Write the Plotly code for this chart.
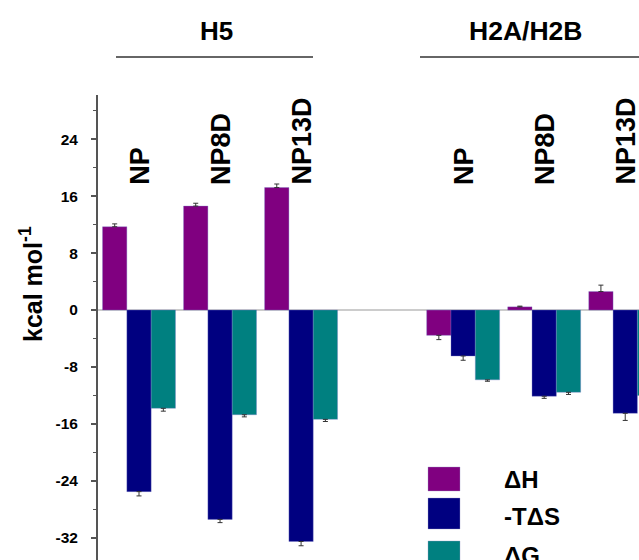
import plotly.graph_objects as go

# ---------------- data ----------------
groups = ["H5", "H2A/H2B"]
samples = ["NP", "NP8D", "NP13D"]
categories = ["H5 NP", "H5 NP8D", "H5 NP13D", "gap", "H2A NP", "H2A NP8D", "H2A NP13D"]
bar_categories = ["H5 NP", "H5 NP8D", "H5 NP13D", "H2A NP", "H2A NP8D", "H2A NP13D"]
label_texts = ["NP", "NP8D", "NP13D", "NP", "NP8D", "NP13D"]

dH = [11.7, 14.6, 17.2, -3.55, 0.45, 2.6]
dH_err = [0.4, 0.4, 0.5, 0.6, 0.1, 0.9]
mTdS = [-25.5, -29.4, -32.5, -6.45, -12.1, -14.5]
mTdS_err = [0.6, 0.45, 0.6, 0.6, 0.3, 1.0]
dG = [-13.8, -14.7, -15.35, -9.8, -11.55, -12.0]
dG_err = [0.4, 0.3, 0.3, 0.2, 0.3, 0.3]

series_names = ["\u0394H", "-T\u0394S", "\u0394G"]
series_values = [dH, mTdS, dG]
series_errors = [dH_err, mTdS_err, dG_err]
series_colors = ["#800080", "#000080", "#008080"]

y_ticks = [24, 16, 8, 0, -8, -16, -24, -32]

FONT = "Arial, Liberation Sans, Helvetica, sans-serif"

fig = go.Figure()
for name, vals, errs, col in zip(series_names, series_values, series_errors, series_colors):
    up = [e if v >= 0 else 0 for v, e in zip(vals, errs)]
    down = [e if v < 0 else 0 for v, e in zip(vals, errs)]
    fig.add_trace(go.Bar(
        x=bar_categories, y=vals, name=name,
        marker=dict(color=col, line=dict(width=0.6, color="rgba(120,120,200,0.6)")),
        error_y=dict(type="data", symmetric=False, array=up, arrayminus=down,
                     color="#333333", thickness=1, width=2.5),
        showlegend=False,
    ))

W, H = 639, 560
ML, MT = 98, 95
PW, PH = W - ML, H - MT

def px2paper_x(px):
    return (px - ML) / PW

def px2paper_y(py):
    return (H - py) / PH

fig.update_layout(
    width=W, height=H,
    margin=dict(l=ML, r=0, t=MT, b=0),
    paper_bgcolor="white", plot_bgcolor="white",
    barmode="group", bargap=0.1, bargroupgap=0,
    font=dict(family=FONT, color="black"),
    xaxis=dict(type="category", categoryorder="array", categoryarray=categories,
               range=[-0.506, 6.17], visible=False, showgrid=False, zeroline=False),
    yaxis=dict(range=[-35.1, 30.2], tickvals=y_ticks, ticktext=[str(t) for t in y_ticks],
               showgrid=False, showline=True, linecolor="#555555", linewidth=2,
               ticks="outside", ticklen=5, tickwidth=1.5, tickcolor="#555555",
               minor=dict(dtick=4, ticks="outside", ticklen=3, tickwidth=1, tickcolor="#555555"),
               tickfont=dict(family=FONT, size=15.5, color="black", weight="bold"),
               ticklabelstandoff=10,
               zeroline=True, zerolinecolor="#cccccc", zerolinewidth=1.5),
)

# sample labels (rotated) above each group
for cat, txt in zip(bar_categories, label_texts):
    fig.add_annotation(x=cat, y=17.3, xref="x", yref="y", text=txt, textangle=-90,
                       showarrow=False, xanchor="center", yanchor="bottom", xshift=1,
                       font=dict(family=FONT, size=27, color="black", weight="bold"))

# group headers with underline
fig.add_annotation(x=px2paper_x(216), y=px2paper_y(31), xref="paper", yref="paper",
                   text=groups[0], showarrow=False, xanchor="center", yanchor="middle",
                   font=dict(family=FONT, size=26, color="black", weight="bold"))
fig.add_annotation(x=px2paper_x(525), y=px2paper_y(31), xref="paper", yref="paper",
                   text=groups[1], showarrow=False, xanchor="center", yanchor="middle",
                   font=dict(family=FONT, size=26.5, color="black", weight="bold"))
fig.add_shape(type="line", xref="paper", yref="paper",
              x0=px2paper_x(116), x1=px2paper_x(313), y0=px2paper_y(57), y1=px2paper_y(57),
              line=dict(color="#333333", width=1.5))
fig.add_shape(type="line", xref="paper", yref="paper",
              x0=px2paper_x(420), x1=px2paper_x(660), y0=px2paper_y(57), y1=px2paper_y(57),
              line=dict(color="#333333", width=1.5))

# y-axis title
fig.add_annotation(x=px2paper_x(31), y=px2paper_y(284), xref="paper", yref="paper",
                   text="kcal mol<sup>-1</sup>", textangle=-90, showarrow=False,
                   xanchor="center", yanchor="middle",
                   font=dict(family=FONT, size=25, color="black", weight="bold"))

# legend (manual, large swatches)
legend_boxes = [(467, 491), (498, 529), (541, 572)]
legend_text_y = [480, 516, 555]
for (y0, y1), ty, name, col in zip(legend_boxes, legend_text_y, series_names, series_colors):
    fig.add_shape(type="rect", xref="paper", yref="paper",
                  x0=px2paper_x(428), x1=px2paper_x(460), y0=px2paper_y(y1), y1=px2paper_y(y0),
                  fillcolor=col, line=dict(color="rgba(150,150,200,0.6)", width=0.6))
    fig.add_annotation(x=px2paper_x(502), y=px2paper_y(ty), xref="paper", yref="paper",
                       text=name, showarrow=False, xanchor="left", yanchor="middle",
                       font=dict(family=FONT, size=24, color="black", weight="bold"))

fig.write_html("out.html", config={"displayModeBar": False},
               post_script="document.body.style.margin='0';document.body.style.overflow='hidden';")
